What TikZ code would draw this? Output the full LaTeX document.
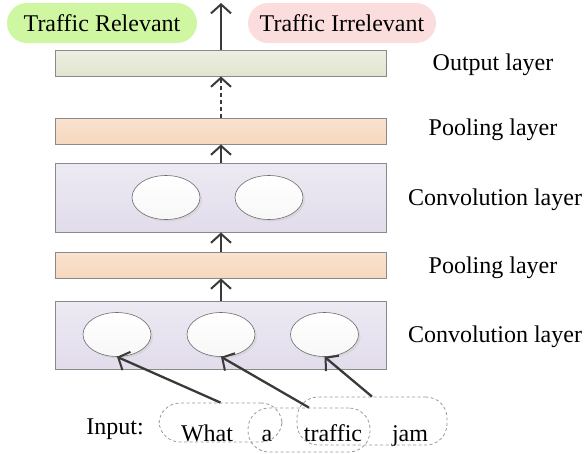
\documentclass[tikz,border=0pt]{standalone}
\usepackage{fontspec}
\setmainfont{Liberation Serif}
\usetikzlibrary{arrows.meta,shapes.geometric,shadows}
\definecolor{arrowc}{HTML}{3A3A3A}
\definecolor{borderc}{HTML}{8A8A8A}
\definecolor{greenpill}{HTML}{CFF7A2}
\definecolor{pinkpill}{HTML}{FCDDDD}
\definecolor{outtop}{HTML}{ECEFE2}
\definecolor{outbot}{HTML}{E1E5CF}
\definecolor{pooltop}{HTML}{FAE2CF}
\definecolor{poolbot}{HTML}{F6D8BE}
\definecolor{convtop}{HTML}{EDEAF3}
\definecolor{convbot}{HTML}{E2DCEB}
\tikzset{
  txt/.style={font=\fontsize{24}{28}\selectfont, inner sep=0pt},
  layerbox/.style={draw=borderc, line width=0.9pt, minimum width=331, inner sep=0pt},
  outbox/.style={layerbox, top color=outtop, bottom color=outbot, minimum height=26},
  poolbox/.style={layerbox, top color=pooltop, bottom color=poolbot, minimum height=26},
  convbox/.style={layerbox, top color=convtop, bottom color=convbot},
  neuron/.style={ellipse, draw=gray!85!black, line width=0.6pt, top color=white, bottom color=gray!6,
     minimum width=68, minimum height=44, inner sep=0pt,
     drop shadow={shadow xshift=2pt, shadow yshift=-2pt, fill=gray!45, opacity=0.4}},
  pill/.style={txt, rounded corners=20pt, minimum height=40, inner sep=0pt},
  inbox/.style={draw=gray!80, dash pattern=on 3pt off 2.5pt, line width=0.8pt, rounded corners=21pt, inner sep=0pt},
  conn/.style={draw=arrowc, line width=2.3pt, -{Straight Barb[length=9pt,width=20pt,line width=2pt]}},
}
\begin{document}
\begin{tikzpicture}[x=1pt,y=-1pt]
\useasboundingbox (0,0) rectangle (586,453);
% pills
\node[pill, fill=greenpill, minimum width=190] (rel) at (102,23) {Traffic Relevant};
\node[pill, fill=pinkpill, minimum width=188] (irr) at (342,23) {Traffic Irrelevant};
% layers
\node[outbox] (out) at (220.5,63) {};
\node[poolbox] (pool1) at (220.5,131) {};
\node[convbox, minimum height=69] (conv1) at (220.5,197.5) {};
\node[poolbox] (pool2) at (220.5,265) {};
\node[convbox, minimum height=68] (conv2) at (220.5,335) {};
% neurons
\node[neuron] (n1) at (166,197.5) {};
\node[neuron] (n2) at (269,197.5) {};
\node[neuron] (m1) at (117,334.5) {};
\node[neuron] (m2) at (221,334.5) {};
\node[neuron] (m3) at (324.5,334.5) {};
% labels
\node[txt] (lout) at (493,65) {Output layer};
\node[txt] (lpool1) at (493,130) {Pooling layer};
\node[txt] (lconv1) at (495,200) {Convolution layer};
\node[txt] (lpool2) at (493,268) {Pooling layer};
\node[txt] (lconv2) at (495,337) {Convolution layer};
% input
\node[txt, anchor=base] (inp) at (115,434) {Input:};
\node[txt, anchor=base] (w1) at (207,441) {What};
\node[txt, anchor=base] (w2) at (267,441) {a};
\node[txt, anchor=base] (w3) at (333,441) {traffic};
\node[txt, anchor=base] (w4) at (410,441) {jam};
\node[inbox, minimum width=123, minimum height=39] (g1) at (220.5,422.5) {};
\node[inbox, minimum width=122, minimum height=44] (g2) at (309,430) {};
\node[inbox, minimum width=150, minimum height=48] (g3) at (372,421) {};
% connectors
\coordinate (top) at (221,3);
\draw[conn] (out.north -| top) -- (top);
\draw[conn, dash pattern=on 4pt off 3pt] (pool1.north -| top) -- (out.south -| top);
\draw[conn] (conv1.north -| top) -- (pool1.south -| top);
\draw[conn] (pool2.north -| top) -- (conv1.south -| top);
\draw[conn] (conv2.north -| top) -- (pool2.south -| top);
\draw[conn] (g1.north) -- (m1.south);
\draw[conn] (g2.north) -- (m2.south);
\draw[conn] (g3.north) -- (m3.south);
\end{tikzpicture}
\end{document}
